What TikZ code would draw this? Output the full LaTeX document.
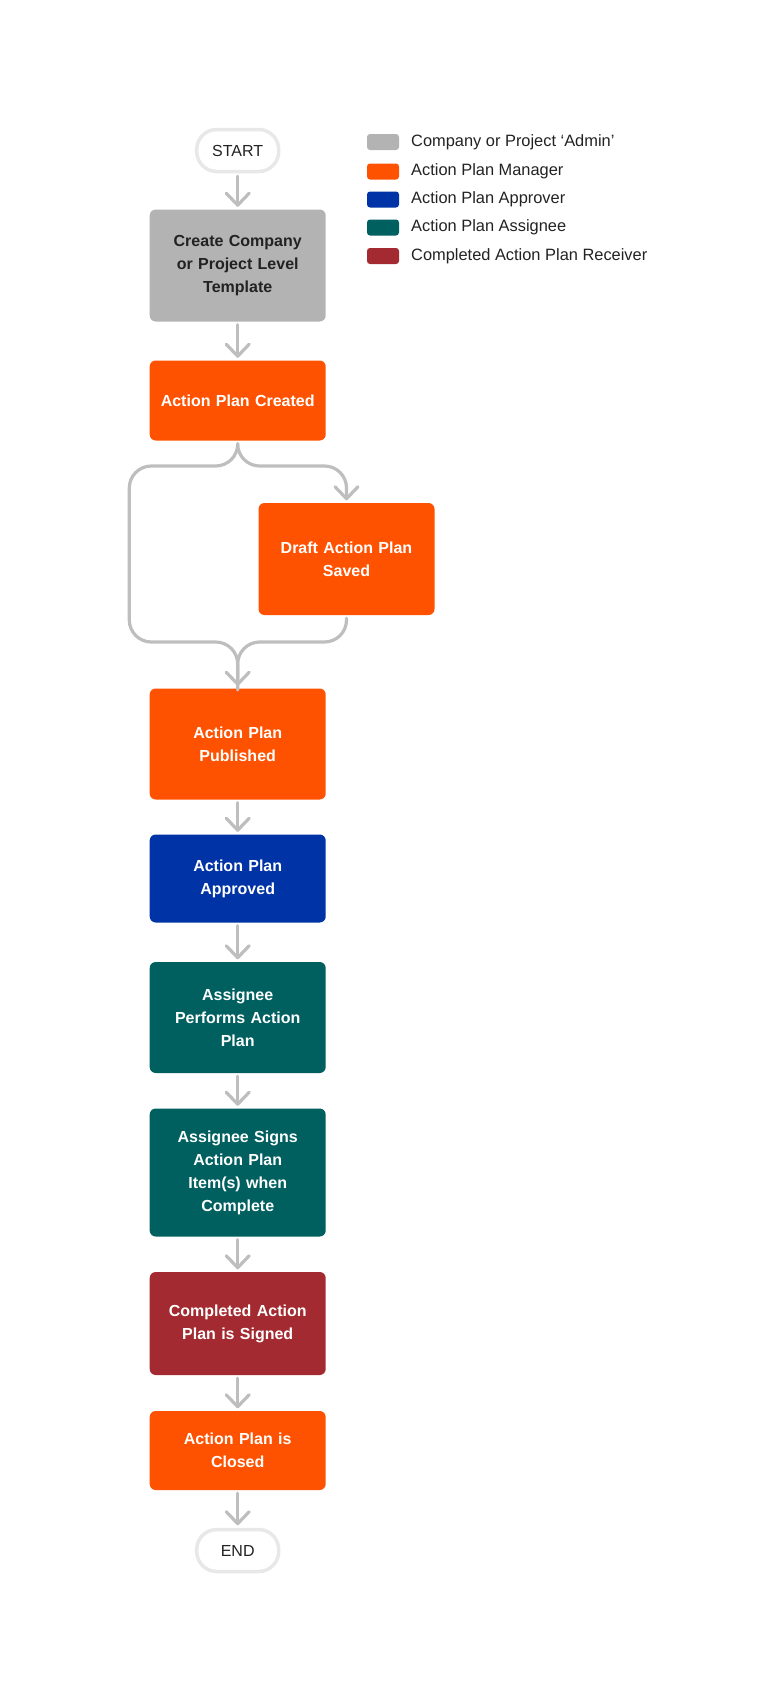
\documentclass[tikz,border=0pt]{standalone}
\usepackage{fontspec}
\setmainfont{Liberation Sans}
\usetikzlibrary{arrows.meta}
\definecolor{cgray}{HTML}{B3B3B3}
\definecolor{corange}{HTML}{FF5200}
\definecolor{cblue}{HTML}{0033A5}
\definecolor{cteal}{HTML}{005F5F}
\definecolor{cred}{HTML}{A22A30}
\definecolor{cline}{HTML}{BEBEBE}
\definecolor{cterm}{HTML}{E8E8E8}
\definecolor{ctext}{HTML}{222222}
\tikzset{
  stepbox/.style={rectangle, rounded corners=6pt, minimum width=176pt, text width=160pt,
    align=center, inner sep=0pt, font=\bfseries\fontsize{16}{23}\selectfont, text=white},
  termbox/.style={rectangle, rounded corners=20pt, minimum width=82pt, minimum height=42pt,
    draw=cterm, line width=3.5pt, fill=white, font=\fontsize{16}{20}\selectfont, text=ctext},
  conn/.style={draw=cline, line width=3.2pt, line cap=round, line join=round,
    -{Straight Barb[length=12pt,width=23pt,round]}, shorten <=3pt, shorten >=2.5pt},
  plain/.style={draw=cline, line width=3.2pt, line cap=round, line join=round, shorten <=3pt},
  legsq/.style={rectangle, rounded corners=3pt, minimum width=32pt, minimum height=16pt, inner sep=0pt},
  legtx/.style={anchor=west, font=\fontsize{16.4}{20}\selectfont, text=ctext, inner sep=0pt}
}
\begin{document}
\begin{tikzpicture}[x=1pt,y=-1pt]
\useasboundingbox (0,0) rectangle (777,1702);
% nodes
\node[termbox] (start) at (237.7,150.5) {START};
\node[stepbox, fill=cgray, text=ctext, minimum height=112pt] (template) at (237.7,265.5) {Create Company\\or Project Level\\Template};
\node[stepbox, fill=corange, minimum height=80pt] (created) at (237.7,400.5) {Action Plan Created};
\node[stepbox, fill=corange, minimum height=112pt] (draft) at (346.5,559) {Draft Action Plan\\Saved};
\node[stepbox, fill=corange, minimum height=111pt] (published) at (237.7,744) {Action Plan\\Published};
\node[stepbox, fill=cblue, minimum height=88pt] (approved) at (237.7,878.5) {Action Plan\\Approved};
\node[stepbox, fill=cteal, minimum height=111pt] (performs) at (237.7,1017.5) {Assignee\\Performs Action\\Plan};
\node[stepbox, fill=cteal, minimum height=128pt] (signs) at (237.7,1172.5) {Assignee Signs\\Action Plan\\Item(s) when\\Complete};
\node[stepbox, fill=cred, minimum height=103pt] (signed) at (237.7,1323.5) {Completed Action\\Plan is Signed};
\node[stepbox, fill=corange, minimum height=79pt] (closed) at (237.7,1450.5) {Action Plan is\\Closed};
\node[termbox] (end) at (237.7,1550.5) {END};
% legend
\node[legsq, fill=cgray] (l1) at (383,142) {};
\node[legsq, fill=corange] (l2) at (383,171.5) {};
\node[legsq, fill=cblue] (l3) at (383,199.5) {};
\node[legsq, fill=cteal] (l4) at (383,227.5) {};
\node[legsq, fill=cred] (l5) at (383,256) {};
\node[legtx] (t1) at (411,142) {Company or Project ‘Admin’};
\node[legtx] (t2) at (411,171.5) {Action Plan Manager};
\node[legtx] (t3) at (411,199.5) {Action Plan Approver};
\node[legtx] (t4) at (411,227.5) {Action Plan Assignee};
\node[legtx] (t5) at (411,256) {Completed Action Plan Receiver};
% branch coordinates
\coordinate (split) at (237.7,466);
\coordinate (splitL) at (129.3,466);
\coordinate (splitR) at (346.5,466);
\coordinate (mergeL) at (129.3,642);
\coordinate (merge) at (237.7,642);
\coordinate (mergeR) at (346.5,642);
% connectors
\draw[conn] (start) -- (template);
\draw[conn] (template) -- (created);
\draw[plain, rounded corners=22pt] (created.south) -- (split) -- (splitL) -- (mergeL) -- (merge) -- (237.7,690);
\draw[conn, rounded corners=22pt] (created.south) -- (split) -- (splitR) -- (draft.north);
\draw[conn, rounded corners=22pt] (draft.south) -- (mergeR) -- (merge) -- (published.north);
\draw[conn] (published) -- (approved);
\draw[conn] (approved) -- (performs);
\draw[conn] (performs) -- (signs);
\draw[conn] (signs) -- (signed);
\draw[conn] (signed) -- (closed);
\draw[conn] (closed) -- (end);
\end{tikzpicture}
\end{document}
